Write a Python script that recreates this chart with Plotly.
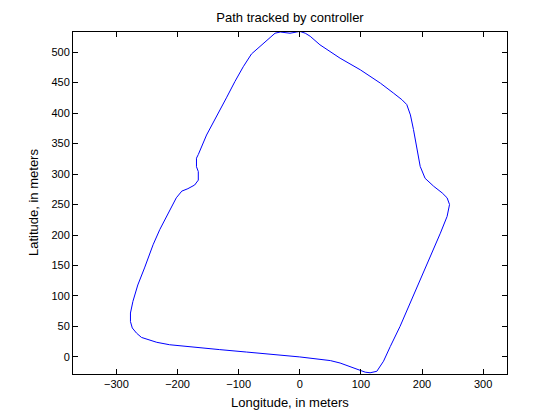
import plotly.graph_objects as go

# path traced by the controller, in meters
lon = [0, -38, -87, -131, -174, -213, -234, -248, -259, -267, -274, -277, -277,
       -273, -265, -254, -240, -229, -213, -202, -193, -183, -172, -166, -166,
       -169, -169, -166, -152.5, -136, -120, -106, -92.5, -79, -54, -40.5, -32,
       -16, -5, 0, 9, 17, 33, 66, 99, 132, 153, 167, 175, 181, 186, 192, 197,
       205, 219, 233, 241, 245, 241, 230, 216, 200, 184, 164, 148, 137, 126,
       115, 107, 99, 66, 50, 22, 0]
lat = [0, 4, 8, 12, 16, 20, 24, 28, 32, 39, 47.5, 58, 72,
       91, 118, 146, 184, 209, 239, 261, 272, 276, 282, 290, 304,
       312, 326, 332, 364, 394, 425, 452, 476, 497, 520, 531, 533,
       531, 533, 534, 531, 526, 512, 490, 471, 449, 433, 422, 414, 397, 373, 340, 312.5,
       293, 280, 269, 261, 250, 230.5, 203, 170.5, 132, 94, 50, 17, -7, -23.6,
       -26, -25, -22, -10, -6, -3, 0]

x_ticks = [-300, -200, -100, 0, 100, 200, 300]
y_ticks = [0, 50, 100, 150, 200, 250, 300, 350, 400, 450, 500]

# page body has an 8px margin, so the figure is drawn 8px smaller
W, H = 552, 412

fig = go.Figure()
fig.add_trace(go.Scatter(x=lon, y=lat, mode="lines",
                         line=dict(color="#0000ff", width=1)))

axis_style = dict(showgrid=False, zeroline=False, showline=True, mirror="ticks",
                  linecolor="black", linewidth=1, ticks="inside", ticklen=5,
                  tickcolor="black", tickfont=dict(size=11, color="black"),
                  automargin=False)

fig.update_layout(
    width=W, height=H,
    margin=dict(l=65, r=53, t=24, b=46, autoexpand=False),
    paper_bgcolor="white", plot_bgcolor="white",
    font=dict(family="Liberation Sans, Arial, sans-serif", color="black"),
    showlegend=False,
    title=dict(text="Path tracked by controller", x=0.5, xanchor="center",
               xref="paper", y=1 - 9.5 / H, yanchor="middle",
               font=dict(size=13)),
    xaxis=dict(range=[-371, 339], tickvals=x_ticks, **axis_style),
    yaxis=dict(range=[-28, 533], tickvals=y_ticks, **axis_style),
)

fig.add_annotation(text="Longitude, in meters", xref="paper", yref="paper",
                   x=0.5, y=0, xanchor="center", yanchor="middle",
                   yshift=-28, showarrow=False, font=dict(size=13))
fig.add_annotation(text="Latitude, in meters", xref="paper", yref="paper",
                   x=0, y=0.5, xanchor="center", yanchor="middle",
                   xshift=-40, textangle=-90, showarrow=False,
                   font=dict(size=13))

fig.write_html("out.html")
